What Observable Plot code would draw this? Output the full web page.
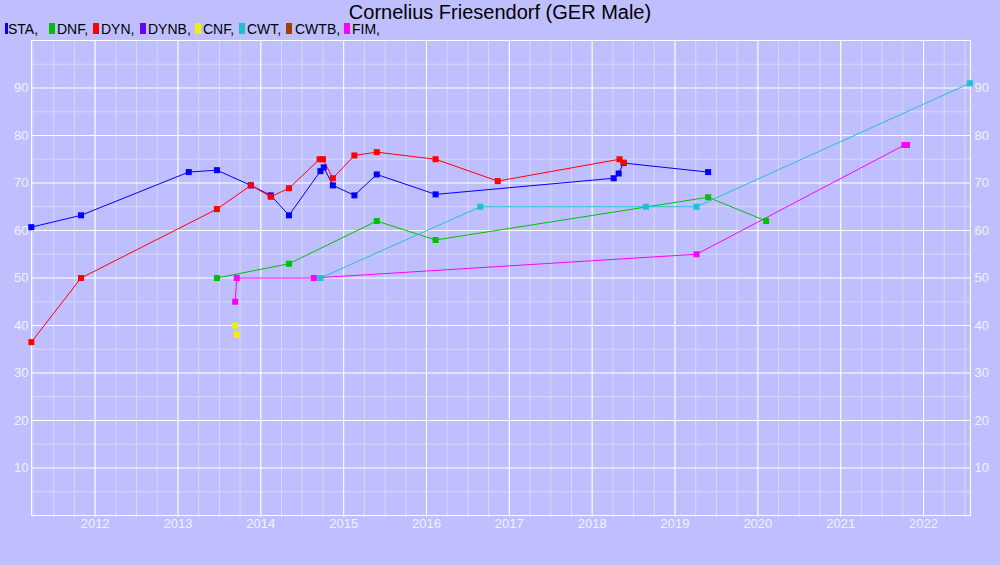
<!DOCTYPE html>
<html><head><meta charset="utf-8">
<script src="https://cdn.jsdelivr.net/npm/d3@7"></script>
<script src="https://cdn.jsdelivr.net/npm/@observablehq/plot@0.6"></script>
<style>
body{margin:0;background:#bfbfff;font-family:"Liberation Sans",Arial,sans-serif;}
#wrap{position:relative;width:1000px;height:565px;overflow:hidden;background:#bfbfff;}
#title{position:absolute;left:0;width:1000px;top:1.5px;text-align:center;font-size:20px;line-height:20px;color:#000;}
.lg{position:absolute;top:21.5px;font-size:14px;line-height:14px;color:#000;white-space:nowrap;}
.sw{position:absolute;top:23px;height:10.5px;width:6px;}
#chart{position:absolute;left:0;top:36px;}
</style></head><body>
<div id="wrap">
<div id="title">Cornelius Friesendorf (GER Male)</div>
<div id="legend"></div>
<div id="chart"></div>
</div>
<script>
const seriesNames = ["STA","DNF","DYN","DYNB","CNF","CWT","CWTB","FIM"];
const seriesColors = ["#0000ff","#00c000","#ff0000","#6600ff","#f0f000","#20c0d0","#a04000","#ff00ff"];
const legendSwatchX = [5,49,93,140,195,239,286,344];
const legendTextX = [8,57,101,148,203,247,295,352];

const staYears = [2011.23,2011.83,2013.13,2013.47,2013.88,2014.12,2014.34,2014.72,2014.76,2014.87,2015.13,2015.40,2016.11,2018.26,2018.32,2018.38,2019.40];
const staValues = [60.7,63.2,72.3,72.7,69.5,67.4,63.2,72.5,73.3,69.5,67.4,71.8,67.6,71.0,72.0,74.2,72.3];
const dnfYears = [2013.47,2014.34,2015.40,2016.11,2019.40,2020.10];
const dnfValues = [50,53,62,58,67,62];
const dynYears = [2011.23,2011.83,2013.47,2013.88,2014.12,2014.34,2014.71,2014.75,2014.87,2015.13,2015.40,2016.11,2016.86,2018.33,2018.38];
const dynValues = [36.5,50,64.5,69.5,67.1,68.9,75,75,71,75.8,76.5,75,70.4,75,74.3];
const dynbYears = [];
const dynbValues = [];
const cnfYears = [2013.69,2013.71];
const cnfValues = [40,38];
const cwtYears = [2014.72,2016.65,2018.65,2019.26,2022.56];
const cwtValues = [50,65,65,65,91];
const cwtbYears = [];
const cwtbValues = [];
const fimYears = [2013.69,2013.71,2014.64,2019.26,2021.77,2021.80];
const fimValues = [45,50,50,55,78,78];

const xTicks = [2012,2013,2014,2015,2016,2017,2018,2019,2020,2021,2022];
const xTickLabels = ["2012","2013","2014","2015","2016","2017","2018","2019","2020","2021","2022"];
const yTicks = [10,20,30,40,50,60,70,80,90];
const yTickLabels = ["10","20","30","40","50","60","70","80","90"];

const allYears = [staYears,dnfYears,dynYears,dynbYears,cnfYears,cwtYears,cwtbYears,fimYears];
const allValues = [staValues,dnfValues,dynValues,dynbValues,cnfValues,cwtValues,cwtbValues,fimValues];

// legend
const lg = document.getElementById("legend");
seriesNames.forEach((n,i)=>{
  const s = document.createElement("div");
  s.className="sw"; s.style.left=legendSwatchX[i]+"px"; s.style.background=seriesColors[i];
  if(i===0) s.style.width="3px";
  lg.appendChild(s);
  const t = document.createElement("div");
  t.className="lg"; t.style.left=legendTextX[i]+"px"; t.textContent=n+",";
  lg.appendChild(t);
});

const rows = [];
seriesNames.forEach((n,i)=>{
  allYears[i].forEach((y,j)=>rows.push({series:n, year:y, value:allValues[i][j], order:i}));
});

const minorX = d3.range(2011.25, 2022.6, 0.25);
const minorY = d3.range(5, 100, 10);
const labelColor = "#f2f2ff";

const lineMarks = seriesNames.map((n,i)=>Plot.line(rows.filter(r=>r.series===n), {x:"year", y:"value", stroke:seriesColors[i], strokeWidth:1}));
const dotMarks = seriesNames.map((n,i)=>Plot.dot(rows.filter(r=>r.series===n), {x:"year", y:"value", symbol:"square", r:3.4, fill:seriesColors[i], stroke:"none"}));

const chart = Plot.plot({
  width:1000, height:529,
  marginTop:4, marginBottom:50, marginLeft:31, marginRight:30,
  style:{background:"transparent", fontFamily:"'Liberation Sans', Arial, sans-serif", fontSize:"13px", color:labelColor},
  x:{domain:[2011.232,2022.567]},
  y:{domain:[0,100]},
  marks:[
    Plot.ruleX(minorX, {stroke:"#d8d8ff"}),
    Plot.ruleY(minorY, {stroke:"#d8d8ff"}),
    Plot.ruleX(xTicks, {stroke:"#ffffff"}),
    Plot.ruleY(yTicks, {stroke:"#ffffff"}),
    Plot.frame({stroke:"#ffffff"}),
    Plot.axisX({ticks:minorX, tickSize:2, tickFormat:()=>"", stroke:"#ffffff", label:null}),
    Plot.axisX({ticks:xTicks, tickSize:0, tickPadding:3, tickFormat:(d)=>xTickLabels[xTicks.indexOf(d)], fill:labelColor, label:null}),
    Plot.axisY({anchor:"left", ticks:yTicks, tickSize:0, tickPadding:3, tickFormat:d=>yTickLabels[yTicks.indexOf(d)], fill:labelColor, label:null}),
    Plot.axisY({anchor:"right", ticks:yTicks, tickSize:0, tickPadding:4, tickFormat:d=>yTickLabels[yTicks.indexOf(d)], fill:labelColor, label:null}),
    ...lineMarks,
    ...dotMarks
  ]
});
document.getElementById("chart").appendChild(chart);
</script>
</body></html>
